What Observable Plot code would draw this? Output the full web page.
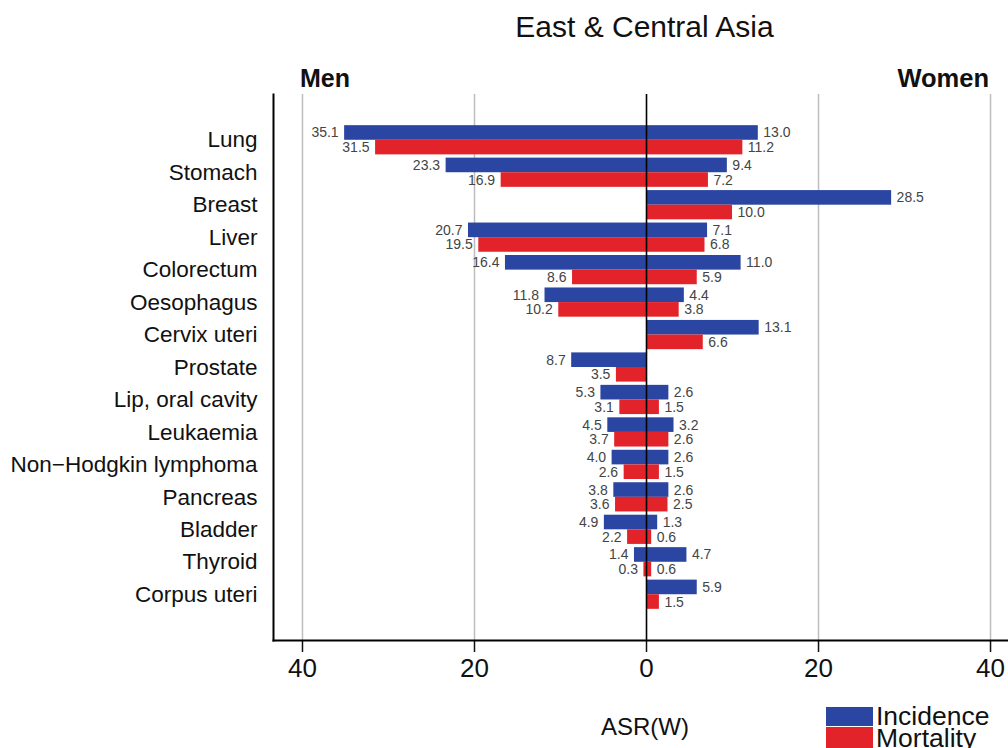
<!DOCTYPE html>
<html><head><meta charset="utf-8">
<script src="https://cdn.jsdelivr.net/npm/d3@7"></script>
<script src="https://cdn.jsdelivr.net/npm/@observablehq/plot@0.6"></script>
<style>
body{margin:0;overflow:hidden;background:#fff;font-family:"Liberation Sans",Arial,sans-serif}
#wrap{position:relative;width:1008px;height:748px;overflow:hidden;background:#fff}
#chart{position:absolute;left:0;top:0}
.t{position:absolute;line-height:1;white-space:nowrap;color:#111}
.lt{position:absolute;line-height:0.8;white-space:nowrap;color:#111}
.sw{position:absolute}
</style></head><body>
<div id="wrap">
<div id="chart"></div>
<div class="t" style="left:644.5px;top:12px;font-size:30px;transform:translateX(-50%)">East &amp; Central Asia</div>
<div class="t" style="left:300px;top:66px;font-size:25px;font-weight:bold">Men</div>
<div class="t" style="right:19px;top:66px;font-size:25.5px;font-weight:bold">Women</div>
<div class="t" style="left:645px;top:715px;font-size:24px;transform:translateX(-50%)">ASR(W)</div>
<div id="legend"></div>
</div>
<script>
const categories = ["Lung","Stomach","Breast","Liver","Colorectum","Oesophagus","Cervix uteri","Prostate","Lip, oral cavity","Leukaemia","Non\u2212Hodgkin lymphoma","Pancreas","Bladder","Thyroid","Corpus uteri"];
const menIncidence   = [35.1, 23.3, null, 20.7, 16.4, 11.8, null, 8.7, 5.3, 4.5, 4.0, 3.8, 4.9, 1.4, null];
const menMortality   = [31.5, 16.9, null, 19.5,  8.6, 10.2, null, 3.5, 3.1, 3.7, 2.6, 3.6, 2.2, 0.3, null];
const womenIncidence = [13.0,  9.4, 28.5, 7.1, 11.0,  4.4, 13.1, null, 2.6, 3.2, 2.6, 2.6, 1.3, 4.7, 5.9];
const womenMortality = [11.2,  7.2, 10.0, 6.8,  5.9,  3.8,  6.6, null, 1.5, 2.6, 1.5, 2.5, 0.6, 0.6, 1.5];
const xTicks = [-40, -20, 0, 20, 40];
const gridTicks = [-40, -20, 20, 40];
const measures = ["Incidence", "Mortality"];
const colors = ["#2B46A2", "#E2232A"];

const rows = [];
categories.forEach((c, i) => {
  const add = (sex, measure, v) => { if (v != null) rows.push({cat: c, sex, measure, value: v}); };
  add("Men", "Incidence", menIncidence[i]);
  add("Men", "Mortality", menMortality[i]);
  add("Women", "Incidence", womenIncidence[i]);
  add("Women", "Mortality", womenMortality[i]);
});
const signed = d => d.sex === "Men" ? -d.value : d.value;
const pick = (sex, measure) => rows.filter(d => d.sex === sex && d.measure === measure);
const inc = rows.filter(d => d.measure === "Incidence");
const mor = rows.filter(d => d.measure === "Mortality");
const half = 14.6;
const lab = d => d.value.toFixed(1);
const labStyle = {fontSize: 14, fill: "#444"};

const chart = Plot.plot({
  width: 1008, height: 748,
  marginTop: 94, marginBottom: 108, marginLeft: 273, marginRight: 0,
  style: {fontFamily: '"Liberation Sans", Arial, sans-serif', background: "white", color: "#111"},
  x: {domain: [-43.37, 42.09]},
  y: {domain: categories, paddingInner: 0.1, paddingOuter: 0.96, round: false},
  color: {domain: measures, range: colors},
  marks: [
    Plot.ruleX(gridTicks, {stroke: "#bdbdbd", strokeWidth: 1.5}),
    Plot.barX(inc, {x1: 0, x2: signed, y: "cat", fill: "measure", insetBottom: half}),
    Plot.barX(mor, {x1: 0, x2: signed, y: "cat", fill: "measure", insetTop: half}),
    Plot.ruleX([0], {stroke: "black", strokeWidth: 1.6}),
    Plot.text(pick("Men", "Incidence"), {x: signed, y: "cat", text: lab, textAnchor: "end", dx: -6, dy: -7.3, ...labStyle}),
    Plot.text(pick("Men", "Mortality"), {x: signed, y: "cat", text: lab, textAnchor: "end", dx: -6, dy: 7.3, ...labStyle}),
    Plot.text(pick("Women", "Incidence"), {x: signed, y: "cat", text: lab, textAnchor: "start", dx: 5, dy: -7.3, ...labStyle}),
    Plot.text(pick("Women", "Mortality"), {x: signed, y: "cat", text: lab, textAnchor: "start", dx: 5, dy: 7.3, ...labStyle}),
    Plot.axisY({tickSize: 0, tickPadding: 16, fontSize: 22.5, fill: "#111", label: null}),
    Plot.axisX({ticks: xTicks, tickFormat: d => Math.abs(d), tickSize: 12, tickPadding: 6, fontSize: 26, fill: "#111", strokeWidth: 1.5, label: null}),
    Plot.frame({anchor: "left", stroke: "black", strokeWidth: 2}),
    Plot.frame({anchor: "bottom", stroke: "black", strokeWidth: 2})
  ]
});
document.getElementById("chart").appendChild(chart);

// legend built from the chart's color scale
const cs = chart.scale("color");
const legend = document.getElementById("legend");
const legendTops = [707, 727];
const textTops = [706.2, 728.2];
cs.domain.forEach((m, i) => {
  const sw = document.createElement("div");
  sw.className = "sw";
  sw.style.cssText = `left:826px;top:${legendTops[i]}px;width:47px;height:${i === 0 ? 19 : 22}px;background:${cs.range[i]}`;
  legend.appendChild(sw);
  const t = document.createElement("div");
  t.className = "lt";
  t.style.cssText = `left:876px;top:${textTops[i]}px;font-size:26.5px`;
  t.textContent = m;
  legend.appendChild(t);
});
</script>
</body></html>
